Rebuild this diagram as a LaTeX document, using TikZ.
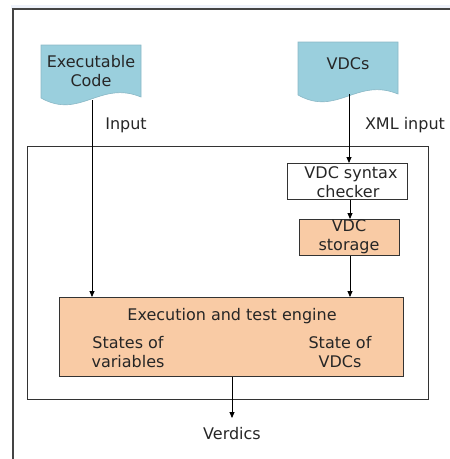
\documentclass[tikz,border=0pt]{standalone}
\usepackage{fontspec}
\setmainfont{DejaVu Sans}
\usetikzlibrary{arrows.meta}
\definecolor{docblue}{HTML}{9ACFDD}
\definecolor{docedge}{HTML}{8AB8C6}
\definecolor{boxorange}{HTML}{F9CBA5}
\definecolor{framegrey}{HTML}{444444}
\definecolor{strip}{HTML}{EEF2FB}
\begin{document}
\begin{tikzpicture}[x=1pt,y=-1pt,
  font=\fontsize{16}{19}\selectfont,
  txt/.style={text=black!85, inner sep=0pt, align=center},
  docnode/.style={txt, minimum width=100pt, minimum height=54pt, anchor=north west},
  boxnode/.style={txt, draw=black!80, line width=0.8pt, anchor=north west},
  conn/.style={draw=black, line width=0.8pt, -{Triangle[length=6pt,width=5pt]}},
  plain/.style={draw=black, line width=0.8pt}]
\useasboundingbox (0,0) rectangle (450,459);
% window strip and frame
\fill[strip] (11,5) rectangle (450,9);
\draw[framegrey, line width=2pt] (13,459) -- (13,9) -- (450,9);
% inner frame
\draw[black!80, line width=0.9pt] (27,146) rectangle (428,399);
% document shapes
\fill[docblue, draw=docedge, line width=0.6pt] (41,45) -- (141,45) -- (141,97)
  .. controls (100,80) and (80,120) .. (41,98) -- cycle;
\fill[docblue, draw=docedge, line width=0.6pt] (298,42) -- (398,42) -- (398,94)
  .. controls (357,77) and (337,117) .. (298,95) -- cycle;
\node[docnode, minimum height=55pt] (ec) at (41,45) {};
\node[txt] (ectext) at (91,71) {Executable\\Code};
\node[docnode, minimum height=52pt] (vdcs) at (298,42) {};
\node[txt] (vdcstext) at (348,64) {VDCs};
% boxes
\node[boxnode, fill=white, minimum width=120pt, minimum height=36pt] (chk) at (287,163) {};
\node[txt] (chktext) at (348,182) {\hspace*{6pt}VDC syntax\\checker};
\node[boxnode, fill=boxorange, minimum width=100pt, minimum height=36pt] (sto) at (299,219) {};
\node[txt] (stotext) at (349,237) {VDC\\storage};
\node[boxnode, fill=boxorange, minimum width=344pt, minimum height=79pt] (eng) at (59,297) {};
\node[txt] (engt) at (232,316.5) {Execution and test engine};
\node[txt] (sv) at (128,352) {States of\\variables};
\node[txt] (sd) at (340,352) {State of\\VDCs};
\node[txt] (verd) at (232,433.5) {Verdics};
\coordinate (vin) at (232,418);
% connectors
\draw[conn] (ec.south -| 92,0) -- (eng.north -| 92,0);
\draw[conn] (vdcs.south -| 349,0) -- (chk.north -| 349,0);
\draw[conn] (chk.south -| 350,0) -- (sto.north -| 350,0);
\draw[conn] (sto.south -| 350,0) -- (eng.north -| 350,0);
\draw[conn] (eng.south -| 232,0) -- (vin);
% labels
\node[txt] (inl) at (126,125) {Input};
\node[txt] (xml) at (405,125) {XML input};
\end{tikzpicture}
\end{document}
